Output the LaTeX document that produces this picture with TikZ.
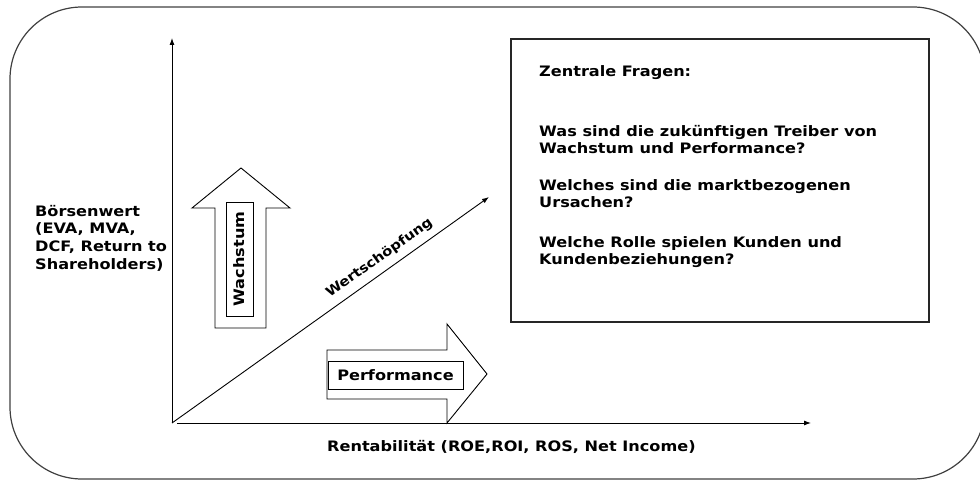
\documentclass[tikz,border=0pt]{standalone}
\usepackage{fontspec}
\setmainfont{DejaVu Sans}[FakeStretch=1.12]
\usetikzlibrary{arrows.meta,calc}

\begin{document}
\begin{tikzpicture}[x=1pt,y=-1pt,
    lbl/.style={font=\bfseries\fontsize{14.4}{17.6}\selectfont,inner sep=0pt,align=left},
    tagbox/.style={draw,line width=0.9pt,inner sep=0pt,font=\bfseries\fontsize{14.4}{16}\selectfont},
    axis/.style={line width=0.9pt,-{Latex[length=7pt,width=5pt]}}]
    \useasboundingbox (0,0) rectangle (980,481);
    \clip (0,0) rectangle (980,481);
    % outer frame
    \draw[line width=1.2pt,black!75,rounded corners=72pt] (10,7) rectangle (985,479);
    % axes
    \coordinate (O) at (172,423);
    \coordinate (ytop) at (172,38);
    \coordinate (xstart) at (177,423);
    \coordinate (xend) at (811,423);
    \coordinate (dtip) at (489,197);
    \draw[axis] (O) -- (ytop);
    \draw[axis] (xstart) -- (xend);
    % value creation diagonal
    \draw[axis] (O) -- (dtip)
        node[pos=0.68,sloped,above=7pt,lbl,font=\bfseries\fontsize{13.2}{16}\selectfont] (wert) {Wertschöpfung};
    % growth arrow
    \draw[line width=0.9pt,fill=white] (215,328) -- (215,208) -- (192,208) -- (241,168)
        -- (290,208) -- (266,208) -- (266,328) -- cycle;
    \node[tagbox,rotate=90,minimum width=114pt,minimum height=27pt] (wachs) at (239.5,259) {Wachstum};
    % performance arrow
    \draw[line width=0.9pt,fill=white] (327,350) -- (447,350) -- (447,324) -- (487,374)
        -- (447,423) -- (447,399) -- (327,399) -- cycle;
    \node[tagbox,minimum width=135pt,minimum height=28pt] (perf) at (395.5,375) {Performance};
    % axis labels
    \node[lbl,anchor=north west] (boerse) at (35,205)
        {Börsenwert\\(EVA, MVA,\\DCF, Return to\\Shareholders)};
    \node[lbl,anchor=base west] (rent) at (327,451) {Rentabilität (ROE,ROI, ROS, Net Income)};
    % questions
    \draw[line width=1.1pt,black!85] (511,39) rectangle (929,322);
    \node[lbl,anchor=north west] (q0) at (539,65) {Zentrale Fragen:};
    \node[lbl,anchor=north west] (q1) at (539,125) {Was sind die zukünftigen Treiber von\\Wachstum und Performance?};
    \node[lbl,anchor=north west] (q2) at (539,179) {Welches sind die marktbezogenen\\Ursachen?};
    \node[lbl,anchor=north west] (q3) at (539,236) {Welche Rolle spielen Kunden und\\Kundenbeziehungen?};
\end{tikzpicture}
\end{document}
